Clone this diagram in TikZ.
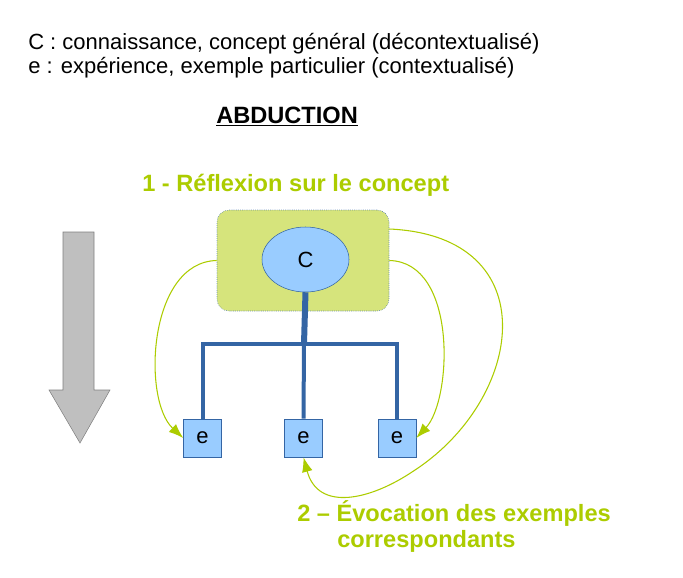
\documentclass[tikz,border=0pt]{standalone}
\usepackage{fontspec}
\setmainfont{Liberation Sans}
\usetikzlibrary{arrows.meta,positioning,calc,shapes.geometric}
\definecolor{grn}{RGB}{172,204,0}
\definecolor{boxgreen}{RGB}{214,228,124}
\definecolor{eblue}{RGB}{153,204,255}
\definecolor{edgeblue}{RGB}{52,101,164}

\begin{document}
\begin{tikzpicture}[x=0.75pt,y=-0.75pt,font=\fontsize{16.5}{19}\selectfont,>={Latex[length=11pt,width=8pt]},
 txt/.style={anchor=base west,inner sep=0},
 gtxt/.style={txt,text=grn,font=\fontsize{17.7}{20}\selectfont\bfseries},
 ebox/.style={draw=edgeblue,fill=eblue,minimum size=28.5pt,inner sep=0},
 link/.style={grn,line width=0.8pt,->},
 tree/.style={edgeblue,line width=3pt}]
\useasboundingbox (0,0) rectangle (683,578);
\node[txt] (l1) at (28,50) {C : connaissance, concept général (décontextualisé)};
\node[txt] (l2) at (28,73) {e : expérience, exemple particulier (contextualisé)};
\node[txt,font=\fontsize{17.7}{20}\selectfont\bfseries] (t) at (216,123) {\underline{ABDUCTION}};
\node[gtxt] (g1) at (142,191) {1 - Réflexion sur le concept};
\node[gtxt] (g2) at (297,521) {2 – Évocation des exemples};
\node[gtxt] (g3) at (337,547) {correspondants};
% arrow on the left
\draw[fill=gray!50,draw=gray] (63,232) -- (94,232) -- (94,390) -- (110,390) -- (80,443)
 -- (49,390) -- (63,390) -- cycle;
\node[draw=edgeblue,densely dotted,fill=boxgreen,rounded corners=9pt,minimum width=129pt,
 minimum height=75.75pt] (box) at (303,260.5) {};
\node[ellipse,draw=edgeblue,fill=eblue,minimum width=65.25pt,minimum height=48.75pt] (C) at (305.5,259.5) {C};
\node[ebox] (e1) at (202.5,438) {e};
\node[ebox] (e2) at (303.5,438) {e};
\node[ebox] (e3) at (397,438) {e};
\coordinate (j) at (304,344);
\draw[edgeblue,line width=4.5pt] (C.south) -- (j);
\draw[tree] (e1.north) |- (j) -| (e3.north);
\draw[tree] (j) -- (e2.north);
\draw[link] (box.west) .. controls (148,262) and (142,400) .. (e1.west);
\draw[link] (box.east) .. controls (458,262) and (452,400) .. (e3.east);
\draw[link] (box.east |- 0,229) .. controls (548,236) and (525,400) .. (412,472)
 .. controls (370,500) and (318,512) .. (e2.south);
\end{tikzpicture}
\end{document}
